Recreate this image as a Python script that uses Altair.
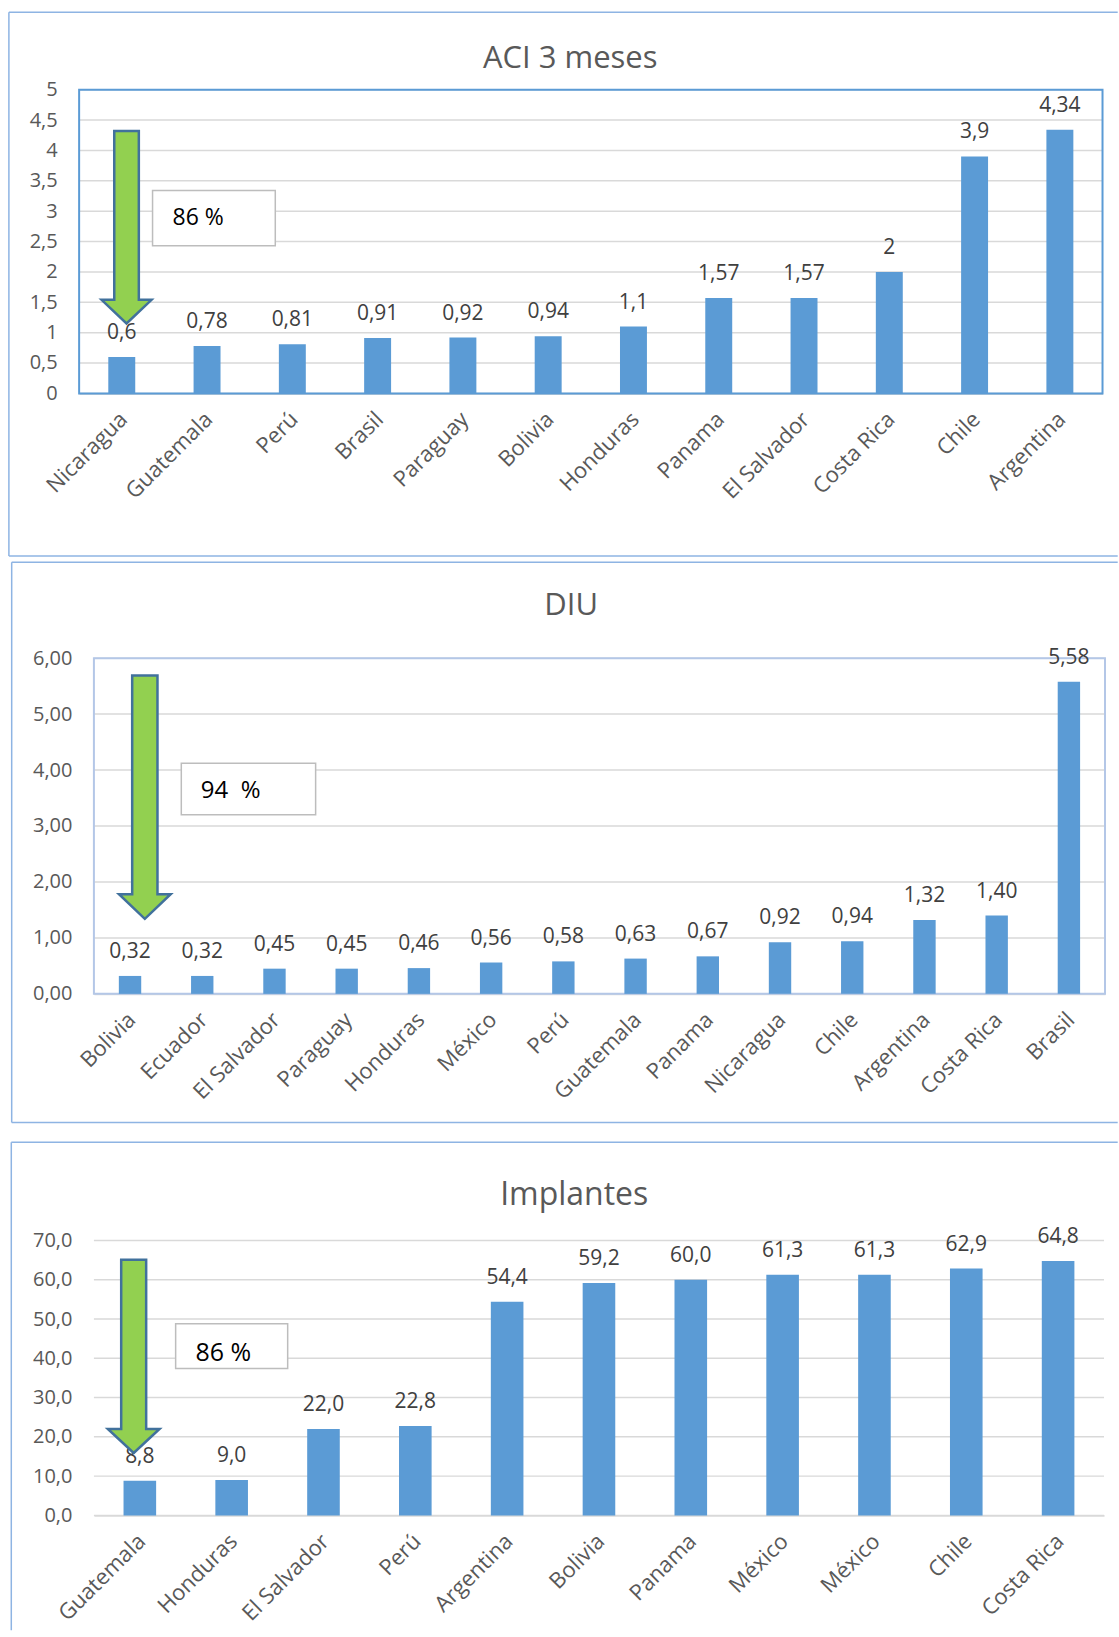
import json

import altair as alt
import pandas as pd

FONT = "Open Sans"
BAR_COLOR = "#5B9BD5"
FRAME_COLOR = "#8EB4E3"
GRID_COLOR = "#D9D9D9"
TICK_COLOR = "#595959"
VALUE_COLOR = "#404040"
ARROW_FILL = "#92D050"
ARROW_STROKE = "#41719C"

# ---- data -------------------------------------------------------------
aci_paises = ["Nicaragua", "Guatemala", "Perú", "Brasil", "Paraguay", "Bolivia",
              "Honduras", "Panama", "El Salvador", "Costa Rica", "Chile", "Argentina"]
aci_valores = [0.6, 0.78, 0.81, 0.91, 0.92, 0.94, 1.1, 1.57, 1.57, 2, 3.9, 4.34]

diu_paises = ["Bolivia", "Ecuador", "El Salvador", "Paraguay", "Honduras", "México",
              "Perú", "Guatemala", "Panama", "Nicaragua", "Chile", "Argentina",
              "Costa Rica", "Brasil"]
diu_valores = [0.32, 0.32, 0.45, 0.45, 0.46, 0.56, 0.58, 0.63, 0.67, 0.92, 0.94,
               1.32, 1.40, 5.58]

imp_paises = ["Guatemala", "Honduras", "El Salvador", "Perú", "Argentina", "Bolivia",
              "Panama", "México", "México", "Chile", "Costa Rica"]
imp_valores = [8.8, 9.0, 22.0, 22.8, 54.4, 59.2, 60.0, 61.3, 61.3, 62.9, 64.8]

aci_ticks = [0, 0.5, 1, 1.5, 2, 2.5, 3, 3.5, 4, 4.5, 5]
diu_ticks = [0, 1, 2, 3, 4, 5, 6]
imp_ticks = [0, 10, 20, 30, 40, 50, 60, 70]

aci_nota = "86 %"
diu_nota = "94\u00a0\u00a0%"
imp_nota = "86 %"

PAD_LEFT = 7
ORIGIN_X = 92.3          # common left edge of the panels' view groups
PAGE_RIGHT = 1117


def comma(expr):
    return f"replace({expr}, '.', ',')"


def panel(nombres, valores, valor_fmt, tick_fmt, y_max, ticks, plot_w, height,
          shift, p_inner, border, titulo, titulo_size, titulo_abs, frame, closed,
          flecha, caja, nota, nota_pos, nota_size):
    n = len(nombres)
    df = pd.DataFrame({"orden": list(range(n)), "valor": valores})
    etiquetas = json.dumps(nombres, ensure_ascii=False)

    # the plot may begin `shift` px left of the group origin
    x_lo = -shift
    x_hi = plot_w - shift
    band = alt.Scale(domain=list(range(n)), range=[x_lo, x_hi],
                     paddingInner=p_inner, paddingOuter=p_inner / 2)
    yscale = alt.Scale(domain=[0, y_max], nice=False, zero=True)
    ann_x = alt.Scale(domain=[0, n], range=[x_lo, x_hi], nice=False, zero=False)

    x_axis = alt.Axis(labelExpr=f"{etiquetas}[datum.value]", labelAngle=-45,
                      labelAlign="right", labelBaseline="middle", labelPadding=22,
                      labelOffset=2, labelFontSize=22, labelColor=TICK_COLOR,
                      ticks=False, domainColor=GRID_COLOR, domainWidth=2,
                      labelOverlap=False, grid=False)
    y_axis = alt.Axis(values=ticks, labelExpr=tick_fmt, grid=False, domain=False,
                      ticks=False, labelPadding=22, labelFontSize=20,
                      labelColor=TICK_COLOR, labelOverlap=False, offset=shift)

    def yenc(field):
        return alt.Y(field, scale=yscale, axis=y_axis, title=None)

    capas = []

    # outer frame
    f_left, f_top, f_bottom = frame
    f_left -= shift
    f_right = PAGE_RIGHT - ORIGIN_X
    one = pd.DataFrame({"k": [0]})
    capas.append(alt.Chart(one).mark_rule(color=FRAME_COLOR, strokeWidth=1.5).encode(
        x=alt.value(f_left), x2=alt.value(f_right),
        y=alt.value(f_top), y2=alt.value(f_top)))
    capas.append(alt.Chart(one).mark_rule(color=FRAME_COLOR, strokeWidth=1.5).encode(
        x=alt.value(f_left), x2=alt.value(f_left),
        y=alt.value(f_top), y2=alt.value(f_bottom)))
    if closed:
        capas.append(alt.Chart(one).mark_rule(color=FRAME_COLOR, strokeWidth=1.5).encode(
            x=alt.value(f_left), x2=alt.value(f_right),
            y=alt.value(f_bottom), y2=alt.value(f_bottom)))

    # horizontal gridlines at the tick values
    capas.append(alt.Chart(pd.DataFrame({"t": ticks})).mark_rule(
        color=GRID_COLOR, strokeWidth=1.5
    ).encode(y=yenc("t:Q"), x=alt.value(x_lo), x2=alt.value(x_hi)))

    # plot-area border
    if border:
        capas.append(alt.Chart(one).mark_rect(
            filled=False, stroke=border, strokeWidth=2
        ).encode(x=alt.value(x_lo), x2=alt.value(x_hi),
                 y=alt.value(0), y2=alt.value(height)))

    base = alt.Chart(df)
    capas.append(base.mark_bar(color=BAR_COLOR).encode(
        x=alt.X("orden:O", scale=band, axis=x_axis, title=None),
        y=yenc("valor:Q"),
    ))
    capas.append(base.transform_calculate(etiqueta=valor_fmt).mark_text(
        baseline="alphabetic", dy=-18, fontSize=21, color=VALUE_COLOR
    ).encode(
        x=alt.X("orden:O", scale=band, axis=None, title=None),
        y=yenc("valor:Q"),
        text="etiqueta:N",
    ))

    # annotation box
    x0, x1, y0, y1 = caja
    capas.append(alt.Chart(pd.DataFrame({"x0": [x0], "x1": [x1], "y0": [y0], "y1": [y1]})).mark_rect(
        fill="white", stroke="#BDBDBD", strokeWidth=1.5
    ).encode(
        x=alt.X("x0:Q", scale=ann_x, axis=None, title=None), x2="x1:Q",
        y=yenc("y0:Q"), y2="y1:Q",
    ))
    nx, ny = nota_pos
    capas.append(alt.Chart(pd.DataFrame({"x": [nx], "y": [ny], "t": [nota]})).mark_text(
        align="left", baseline="middle", fontSize=nota_size, color="black"
    ).encode(
        x=alt.X("x:Q", scale=ann_x, axis=None, title=None),
        y=yenc("y:Q"),
        text="t:N",
    ))

    # downward arrow, geometry given in data units and converted to a symbol path
    top, head_base, tip, xc, shaft_w, head_w = flecha
    ppu = height / y_max
    total = (top - tip) * ppu
    half = total / 2
    s = shaft_w / 2 / half
    h = head_w / 2 / half
    b = -1 + 2 * (top - head_base) / (top - tip)
    path = (f"M{-s:.4f},-1L{s:.4f},-1L{s:.4f},{b:.4f}L{h:.4f},{b:.4f}"
            f"L0,1L{-h:.4f},{b:.4f}L{-s:.4f},{b:.4f}Z")
    capas.append(alt.Chart(pd.DataFrame({"x": [xc], "y": [(top + tip) / 2]})).mark_point(
        shape=path, size=total * total, filled=True, fill=ARROW_FILL,
        stroke=ARROW_STROKE, strokeWidth=2.5, opacity=1
    ).encode(
        x=alt.X("x:Q", scale=ann_x, axis=None, title=None),
        y=yenc("y:Q"),
    ))

    tx, ty = titulo_abs
    capas.append(alt.Chart(pd.DataFrame({"t": [titulo]})).mark_text(
        fontSize=titulo_size, color=TICK_COLOR, align="center", baseline="alphabetic"
    ).encode(x=alt.value(tx - ORIGIN_X), y=alt.value(ty), text="t:N"))

    return alt.layer(*capas).resolve_scale(x="independent").properties(
        width=plot_w - shift, height=height,
        view=alt.ViewBackground(stroke="transparent"),
    )


p1 = panel(
    aci_paises, aci_valores,
    comma("toString(datum.valor)"), comma("toString(datum.value)"),
    5, aci_ticks, 1024.3, 304, 14.8, 0.684, BAR_COLOR,
    "ACI 3 meses", 31, (569, -21.4),
    (-70.3, -77.5, 466.7), True,
    (4.32, 1.54, 1.15, 0.556, 24.6, 50),
    (0.861, 2.30, 2.43, 3.34), aci_nota, (1.095, 2.89), 23,
)
p2 = panel(
    diu_paises, diu_valores,
    comma("format(datum.valor, '.2f')"), comma("format(datum.value, '.2f')"),
    6, diu_ticks, 1012, 336, 0, 0.69, "#B4C7E7",
    "DIU", 31, (570, -42.7),
    (-82.3, -96, 464.8), True,
    (5.69, 1.78, 1.34, 0.705, 25.3, 51.7),
    (1.21, 3.07, 3.20, 4.12), diu_nota, (1.48, 3.62), 24,
)
p3 = panel(
    imp_paises, imp_valores,
    comma("format(datum.valor, '.1f')"), comma("format(datum.value, '.1f')"),
    70, imp_ticks, 1011, 275, 0, 0.645, None,
    "Implantes", 32, (573, -35.5),
    (-82.7, -98.5, 390), False,
    (65.1, 22.0, 15.9, 0.433, 25, 51.7),
    (0.89, 2.11, 37.4, 48.8), imp_nota, (1.105, 41.4), 25,
)

chart = alt.vconcat(
    alt.vconcat(p1, p2, spacing=3), p3, spacing=16,
).properties(
    padding={"left": PAD_LEFT, "top": 10, "right": 0, "bottom": 0},
    background="white",
).configure(font=FONT)

chart.save("out.html", embed_options={"renderer": "svg", "actions": False})
